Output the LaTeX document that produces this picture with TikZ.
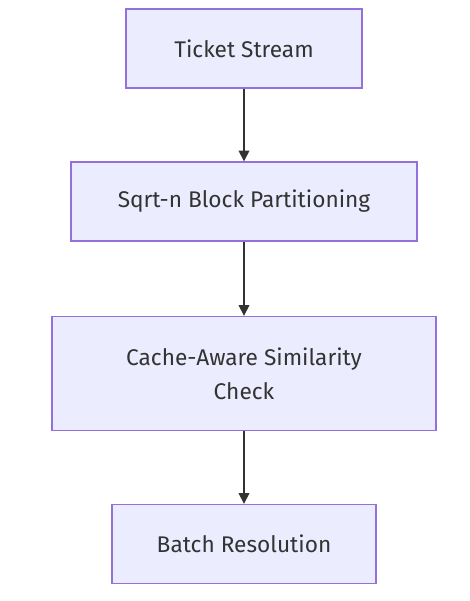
\documentclass[tikz,border=0pt]{standalone}
\usepackage{fontspec}
\setmainfont{Fira Sans}
\usepackage{tikz}
\usetikzlibrary{arrows.meta}
\usepackage{xcolor}
\definecolor{boxfill}{HTML}{ECECFF}
\definecolor{boxline}{HTML}{9370DB}
\definecolor{inkgrey}{HTML}{333333}

\begin{document}
\begin{tikzpicture}[
			x=0.75pt, y=-0.75pt,
			box/.style={
				draw=boxline, fill=boxfill, line width=1pt,
				minimum height=59.25pt, align=center, text=inkgrey,
				font=\fontsize{17}{25.5}\selectfont
			},
			arr/.style={-{Triangle[length=8pt, width=8pt]}, line width=1pt, color=inkgrey},
			]
			\useasboundingbox (0,0) rectangle (469,601);
			
			% ── Boxes ──────────────────────────────────────────────────────
			\node[box, minimum width=177pt] (stream) at (244, 48.5) {Ticket Stream};
			\node[box, minimum width=259.5pt] (blocks) at (244, 201.5) {Sqrt-n Block Partitioning};
			\node[box, minimum width=288pt, minimum height=85.5pt] (cache) at (244, 373.5)
			{Cache-Aware Similarity\\Check};
			\node[box, minimum width=198pt] (batch) at (244, 544) {Batch Resolution};
			
			% ── Arrows ─────────────────────────────────────────────────────
			\draw[arr] (stream) -- (blocks);
			\draw[arr] (blocks) -- (cache);
			\draw[arr] (cache) -- (batch);
			
		\end{tikzpicture}
\end{document}
